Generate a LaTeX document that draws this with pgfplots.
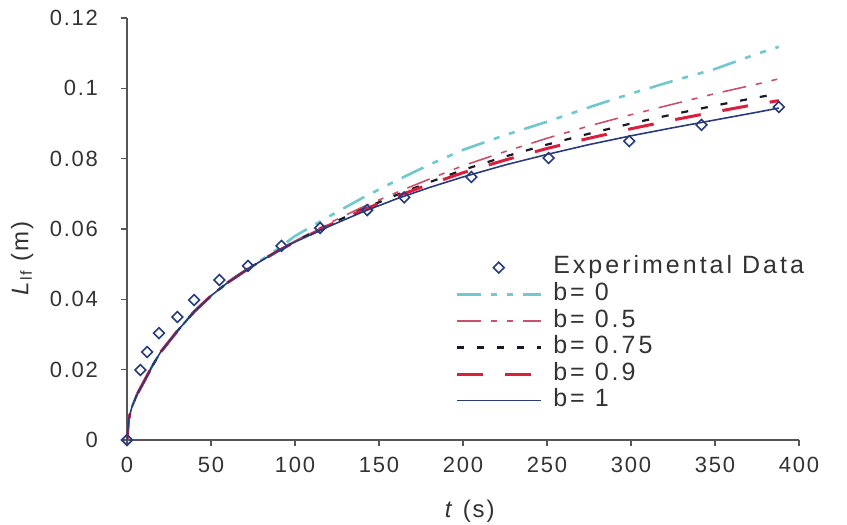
\documentclass[border=0pt]{standalone}
\usepackage{fontspec}
\setmainfont{Liberation Sans}[LetterSpace=8]
\usepackage{pgfplots}
\pgfplotsset{compat=1.18}
\definecolor{cB0}{RGB}{110,200,205}
\definecolor{cB05}{RGB}{200,80,105}
\definecolor{cB075}{RGB}{25,25,40}
\definecolor{cB09}{RGB}{220,30,60}
\definecolor{cB1}{RGB}{40,60,125}
\definecolor{axisgray}{RGB}{85,85,85}
\begin{document}
\begin{tikzpicture}
\useasboundingbox (-63.5pt,-42.5pt) rectangle (360pt,220pt);
\begin{axis}[
  scale only axis,
  width=336pt, height=211pt,
  xmin=0, xmax=400, ymin=0, ymax=0.12,
  xtick={0,50,...,400},
  ytick={0,0.02,0.04,0.06,0.08,0.1,0.12},
  scaled y ticks=false,
  yticklabel style={/pgf/number format/fixed, /pgf/number format/precision=2, xshift=-8pt},
  /pgf/number format/assume math mode=true,
  axis lines=left,
  axis line style={-, draw=axisgray, line width=0.9pt},
  tick align=outside,
  major tick length=3pt,
  tick style={draw=axisgray, line width=0.8pt},
  ticklabel style={font=\fontsize{11}{13}\selectfont, text=black!80},
  xticklabel style={yshift=-2pt},
  xlabel={\textit{t} (s)},
  ylabel={\textit{L}\textsubscript{lf} (m)},
  label style={font=\fontsize{12}{14}\selectfont, text=black!80},
  xlabel style={at={(axis description cs:0.51,-0.168)}, anchor=center},
  ylabel style={at={(axis description cs:-0.156,0.43)}, anchor=center, rotate=0},
  legend style={draw=none, fill=none, at={(0.488,0.441)}, anchor=north west,
    inner sep=0pt, font=\fontsize{12.5}{14}\selectfont\addfontfeatures{LetterSpace=12}, text=black!80,
    nodes={inner sep=1pt, text height=8.8pt, text depth=2.5pt},
    /tikz/every odd column/.append style={column sep=4.5pt}},
  legend cell align=left,
  legend image code/.code={\draw[mark repeat=2, mark phase=2, #1] plot coordinates {(0pt,0pt) (21pt,0pt) (42pt,0pt)};},
]
\addplot[only marks, mark=square, mark size=1.9pt, mark options={rotate=45, draw=cB1, line width=0.8pt, fill=white}]
coordinates {(0,0) (8,0.0199) (12,0.025) (19,0.0304) (30,0.035) (40,0.0398) (55,0.0455) (72,0.0495) (92,0.0552) (115,0.0603) (143,0.0654) (165,0.069) (205,0.0748) (251,0.0802) (299,0.085) (342,0.0896) (388,0.0947)};
\addlegendentry{Experimental Data}
\addplot[cB0, line width=1.3pt, dash pattern=on 12pt off 5pt on 3pt off 5pt on 3pt off 5pt]
coordinates {(0,0) (1,0.006) (3,0.0095) (6,0.013) (10,0.0165) (15,0.021) (20,0.025) (30,0.031) (40,0.0365) (50,0.041) (60,0.0448) (70,0.048) (80,0.0512) (90,0.0544) (100,0.058) (120,0.0635) (140,0.0688) (160,0.0737) (180,0.0783) (200,0.0825) (225,0.0867) (250,0.0905) (275,0.0946) (300,0.0985) (325,0.1021) (350,0.1055) (375,0.1098) (388,0.1118)};
\addlegendentry{b= 0}
\addplot[cB05, line width=0.8pt, dash pattern=on 12pt off 5pt on 3pt off 5pt on 3pt off 5pt]
coordinates {(0,0) (1,0.006) (3,0.0095) (6,0.013) (10,0.0165) (15,0.021) (20,0.025) (30,0.031) (40,0.0365) (50,0.041) (60,0.0448) (70,0.048) (80,0.051) (90,0.0539) (100,0.0566) (120,0.0616) (140,0.0662) (160,0.0703) (180,0.0742) (200,0.078) (225,0.082) (250,0.0858) (275,0.0893) (300,0.0925) (325,0.0955) (350,0.0985) (375,0.1012) (388,0.1027)};
\addlegendentry{b= 0.5}
\addplot[cB075, line width=1.1pt, dash pattern=on 3.5pt off 6.5pt]
coordinates {(0,0) (1,0.006) (3,0.0095) (6,0.013) (10,0.0165) (15,0.021) (20,0.025) (30,0.031) (40,0.0365) (50,0.041) (60,0.0448) (70,0.048) (80,0.051) (90,0.0538) (100,0.0564) (120,0.0612) (140,0.0656) (160,0.0696) (180,0.0733) (200,0.0768) (225,0.0806) (250,0.084) (275,0.0871) (300,0.09) (325,0.0926) (350,0.0951) (375,0.0974) (388,0.0985)};
\addlegendentry{b= 0.75}
\addplot[cB09, line width=1.5pt, dash pattern=on 13pt off 11pt]
coordinates {(0,0) (1,0.006) (3,0.0095) (6,0.013) (10,0.0165) (15,0.021) (20,0.025) (30,0.031) (40,0.0365) (50,0.041) (60,0.0448) (70,0.048) (80,0.051) (90,0.0538) (100,0.0563) (120,0.061) (140,0.0653) (160,0.0692) (180,0.0727) (200,0.076) (225,0.0796) (250,0.0829) (275,0.0858) (300,0.0885) (325,0.091) (350,0.0933) (375,0.0955) (388,0.0965)};
\addlegendentry{b= 0.9}
\addplot[cB1, line width=0.8pt]
coordinates {(0,0) (1,0.006) (3,0.0095) (6,0.013) (10,0.0165) (15,0.021) (20,0.025) (30,0.031) (40,0.0365) (50,0.041) (60,0.0448) (70,0.048) (80,0.051) (90,0.0538) (100,0.0563) (120,0.0607) (140,0.0648) (160,0.0685) (180,0.0718) (200,0.0748) (225,0.0782) (250,0.0812) (275,0.084) (300,0.0865) (325,0.0888) (350,0.091) (375,0.0932) (388,0.0944)};
\addlegendentry{b= 1}
\end{axis}
\end{tikzpicture}
\end{document}
